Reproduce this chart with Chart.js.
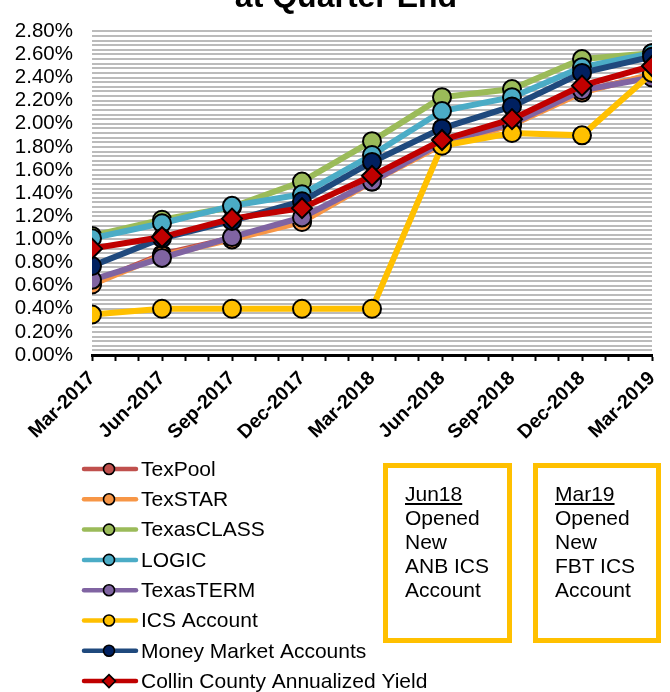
<!DOCTYPE html>
<html>
<head>
<meta charset="utf-8">
<script src="https://cdn.jsdelivr.net/npm/chart.js@4/dist/chart.umd.min.js"></script>
<style>
html,body{margin:0;padding:0;background:#fff;}
#wrap{position:relative;width:670px;height:692px;overflow:hidden;}
#c{position:absolute;left:0;top:0;}
.note{position:absolute;box-sizing:border-box;border:5px solid #FFC000;font-family:"Liberation Sans",Arial,sans-serif;font-size:21px;line-height:24px;color:#000;padding:14px 0 0 17px;background:transparent;}
.note u{text-decoration:underline;}
</style>
</head>
<body>
<div id="wrap">
<canvas id="c" width="670" height="692"></canvas>
<div class="note" style="left:383px;top:463px;width:129px;height:180px"><u>Jun18</u><br>Opened<br>New<br>ANB ICS<br>Account</div>
<div class="note" style="left:533px;top:463px;width:128px;height:180px"><u>Mar19</u><br>Opened<br>New<br>FBT ICS<br>Account</div>
</div>
<script>
// ---- data ----
const titleText = 'at Quarter End';
const categories = ['Mar-2017','Jun-2017','Sep-2017','Dec-2017','Mar-2018','Jun-2018','Sep-2018','Dec-2018','Mar-2019'];
const monthsPerQuarter = 3;
const yTickLabelEvery = 5; // label every 0.20%
const seriesNames = ['TexPool','TexSTAR','TexasCLASS','LOGIC','TexasTERM','ICS Account','Money Market Accounts','Collin County Annualized Yield'];
const texPool     = [0.62, 0.87, 1.01, 1.16, 1.51, 1.83, 2.00, 2.28, 2.42];
const texStar     = [0.61, 0.86, 1.00, 1.15, 1.50, 1.82, 1.99, 2.27, 2.43];
const texasClass  = [1.03, 1.17, 1.28, 1.50, 1.85, 2.23, 2.30, 2.56, 2.61];
const logic       = [1.01, 1.14, 1.29, 1.39, 1.73, 2.11, 2.23, 2.49, 2.61];
const texasTerm   = [0.65, 0.84, 1.02, 1.19, 1.50, 1.84, 2.00, 2.29, 2.40];
const icsAccount  = [0.35, 0.40, 0.40, 0.40, 0.40, 1.81, 1.92, 1.90, 2.44];
const moneyMarket = [0.77, 1.01, 1.16, 1.33, 1.67, 1.96, 2.15, 2.44, 2.58];
const collin      = [0.92, 1.02, 1.18, 1.27, 1.55, 1.86, 2.04, 2.33, 2.50];
const seriesValues = [texPool, texStar, texasClass, logic, texasTerm, icsAccount, moneyMarket, collin];
const lineColors  = ['#C0504D','#F79646','#9BBB59','#4BACC6','#8064A2','#FFC000','#1F497D','#C00000'];
const pointColors = ['#C0504D','#F79646','#9BBB59','#4BACC6','#8064A2','#FFC000','#002060','#C00000'];
const pointStyles = ['circle','circle','circle','circle','circle','circle','circle','rectRot'];

const FONT = '"Liberation Sans", Arial, sans-serif';
Chart.defaults.font.family = FONT;
Chart.defaults.color = '#000';

const datasets = seriesNames.map((name, s) => ({
  label: name,
  data: seriesValues[s].map((v, i) => ({x: i * monthsPerQuarter, y: v})),
  borderColor: lineColors[s],
  backgroundColor: pointColors[s],
  pointBackgroundColor: pointColors[s],
  pointBorderColor: '#000',
  pointBorderWidth: 2,
  pointStyle: pointStyles[s],
  pointRadius: pointStyles[s] === 'rectRot' ? 10 : 9,
  borderWidth: 6,
  tension: 0,
  fill: false,
  order: seriesNames.length - s
}));

const overlay = {
  id: 'overlay',
  afterDraw(chart) {
    const ctx = chart.ctx;
    ctx.save();
    ctx.fillStyle = '#000';
    ctx.font = 'bold 32px ' + FONT;
    ctx.textAlign = 'center';
    ctx.textBaseline = 'alphabetic';
    ctx.fillText(titleText, 346, 7);
    // legend
    const top = 469, gap = 30.3;
    chart.data.datasets.forEach((ds, i) => {
      const y = top + i * gap;
      ctx.strokeStyle = ds.borderColor;
      ctx.lineWidth = 4.5;
      ctx.lineCap = 'round';
      ctx.beginPath(); ctx.moveTo(84, y); ctx.lineTo(136, y); ctx.stroke();
      ctx.fillStyle = ds.pointBackgroundColor;
      ctx.strokeStyle = '#000';
      ctx.lineWidth = 1.6;
      Chart.helpers.drawPoint(ctx, {pointStyle: ds.pointStyle, radius: ds.pointStyle === 'rectRot' ? 6.5 : 5.5, rotation: 0, borderWidth: 1.6}, 109, y);
      ctx.fillStyle = '#000';
      ctx.font = '21px ' + FONT;
      ctx.textAlign = 'left';
      ctx.textBaseline = 'middle';
      ctx.fillText(ds.label, 141, y + 1);
    });
    ctx.restore();
  }
};

new Chart(document.getElementById('c'), {
  type: 'line',
  data: {datasets},
  plugins: [overlay],
  options: {
    responsive: false,
    animation: false,
    layout: {padding: {top: 18, left: 0, right: 18, bottom: 237}},
    plugins: {legend: {display: false}, title: {display: false}, tooltip: {enabled: false}},
    scales: {
      x: {
        type: 'linear',
        min: 0,
        max: (categories.length - 1) * monthsPerQuarter,
        ticks: {
          stepSize: 1,
          autoSkip: false,
          minRotation: 45,
          maxRotation: 45,
          padding: 6,
          color: '#000',
          font: {size: 19.5, weight: 'bold'},
          callback: (v) => (v % monthsPerQuarter === 0 ? categories[v / monthsPerQuarter] : '')
        },
        grid: {drawOnChartArea: false, drawTicks: true, tickLength: 6, tickColor: '#000', tickWidth: 2, color: '#000'},
        border: {display: true, color: '#000', width: 3},
        afterFit: (s) => { s.height = 100; s.paddingRight = 0; s.paddingLeft = 0; }
      },
      y: {
        type: 'linear',
        min: 0,
        max: 2.8,
        ticks: {
          stepSize: 0.04,
          maxTicksLimit: 1000,
          autoSkip: false,
          padding: 19,
          color: '#000',
          font: {size: 20.5},
          callback: (v, i) => (i % yTickLabelEvery === 0 ? v.toFixed(2) + '%' : '')
        },
        grid: {color: '#BBBBBB', lineWidth: 2, drawTicks: false},
        border: {display: false},
        afterFit: (s) => { s.width = 92; }
      }
    }
  }
});
</script>
</body>
</html>
